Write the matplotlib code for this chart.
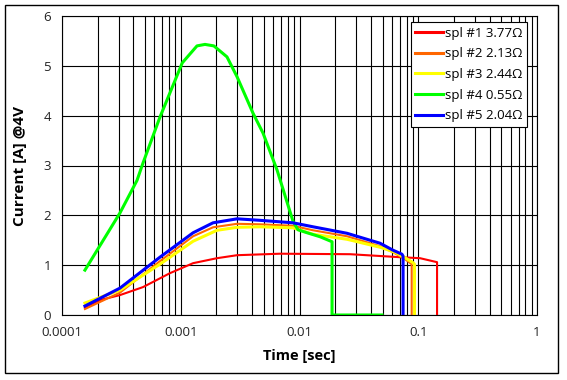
import matplotlib.pyplot as plt
from matplotlib.patches import Rectangle
from matplotlib.ticker import LogLocator, FixedLocator, FixedFormatter, NullFormatter

plt.rcParams['font.family'] = ['Open Sans', 'DejaVu Sans']

# spl #1
t1 = [1.56e-4, 2.09e-4, 3.08e-4, 4.81e-4, 8.12e-4, 1.27e-3, 2.02e-3, 2.98e-3, 6.86e-3, 0.0266, 0.0701, 0.1035, 0.144, 0.144]
i1 = [0.15, 0.30, 0.40, 0.56, 0.84, 1.04, 1.14, 1.20, 1.23, 1.22, 1.16, 1.14, 1.06, 0.0]
# spl #2
t2 = [1.56e-4, 3.08e-4, 6.68e-4, 1.27e-3, 1.87e-3, 2.98e-3, 4.65e-3, 8.82e-3, 0.013, 0.0251, 0.0477, 0.0613, 0.0773, 0.0846, 0.088, 0.088]
i2 = [0.12, 0.45, 1.08, 1.58, 1.76, 1.83, 1.82, 1.79, 1.70, 1.58, 1.38, 1.26, 1.12, 1.05, 1.02, 0.0]
# spl #3
t3 = [1.56e-4, 3.08e-4, 6.68e-4, 1.27e-3, 2.02e-3, 2.98e-3, 4.65e-3, 8.82e-3, 0.013, 0.0251, 0.0477, 0.0637, 0.0773, 0.0904, 0.093, 0.093]
i3 = [0.24, 0.50, 1.02, 1.48, 1.70, 1.76, 1.77, 1.75, 1.62, 1.52, 1.36, 1.26, 1.15, 1.05, 1.02, 0.0]
# spl #4
t4 = [1.56e-4, 3.08e-4, 4.28e-4, 4.81e-4, 6.68e-4, 1.03e-3, 1.37e-3, 1.6e-3, 1.9e-3, 2.45e-3, 2.98e-3, 4.06e-3, 4.93e-3, 6.47e-3,
      8.82e-3, 9.71e-3, 0.0116, 0.0149, 0.0188, 0.0188, 0.0495]
i4 = [0.90, 2.05, 2.70, 3.05, 3.97, 5.06, 5.40, 5.43, 5.40, 5.18, 4.78, 4.05, 3.65, 2.91,
      1.88, 1.71, 1.65, 1.57, 1.47, 0.0, 0.0]
# spl #5
t5 = [1.56e-4, 3.08e-4, 6.68e-4, 1.27e-3, 1.87e-3, 2.98e-3, 4.65e-3, 8.82e-3, 0.013, 0.0251, 0.0477, 0.0613, 0.0729, 0.0745, 0.0745]
i5 = [0.18, 0.54, 1.16, 1.65, 1.85, 1.93, 1.90, 1.85, 1.77, 1.64, 1.44, 1.30, 1.22, 1.18, 0.0]

labels = ['spl #1 3.77Ω', 'spl #2 2.13Ω', 'spl #3 2.44Ω', 'spl #4 0.55Ω', 'spl #5 2.04Ω']
colors = ['#ff0000', '#ff6600', '#ffff00', '#00ff00', '#0000ff']
widths = [1.5, 1.5, 2.2, 2.2, 2.2]
xticks = [1e-4, 1e-3, 1e-2, 1e-1, 1]
xticklabels = ['0.0001', '0.001', '0.01', '0.1', '1']

fig = plt.figure(figsize=(5.67, 3.8), dpi=100)
ax = fig.add_axes([62/567, 1-315/380, 475/567, 299/380])

for t, c, col, lw, lab in zip([t1, t2, t3, t4, t5], [i1, i2, i3, i4, i5], colors, widths, labels):
    ax.plot(t, c, color=col, lw=lw, label=lab)

ax.set_xscale('log')
ax.set_xlim(1e-4, 1)
ax.set_ylim(0, 6)
ax.xaxis.set_major_locator(FixedLocator(xticks))
ax.xaxis.set_major_formatter(FixedFormatter(xticklabels))
ax.xaxis.set_minor_locator(LogLocator(base=10, subs=range(2, 10)))
ax.xaxis.set_minor_formatter(NullFormatter())
ax.set_yticks(range(7))
ax.grid(True, which='both', color='black', lw=0.8)
ax.set_axisbelow(True)
ax.tick_params(which='both', length=0, labelsize=9.5, pad=8, colors='#222222')
for s in ax.spines.values():
    s.set_color('black')
    s.set_linewidth(0.8)

ax.set_xlabel('Time [sec]', fontsize=10.5, fontweight='bold', labelpad=7)
ax.set_ylabel('Current [A] @4V', fontsize=11, fontweight='bold', labelpad=12)

leg = ax.legend(loc='upper right', bbox_to_anchor=(527/567, 1-22/380), bbox_transform=fig.transFigure,
                borderaxespad=0, fontsize=9.5, frameon=True, fancybox=False, edgecolor='black',
                framealpha=1, handlelength=2.1, handletextpad=0.15, labelspacing=0.58, borderpad=0.35)
leg.get_frame().set_linewidth(0.8)
for line in leg.get_lines():
    line.set_linewidth(2.2)

fig.patches.append(Rectangle((5/567, 1-373/380), 553/567, 368/380, transform=fig.transFigure,
                             fill=False, edgecolor='black', lw=1))

plt.savefig('out.png', dpi=100)
plt.close()
